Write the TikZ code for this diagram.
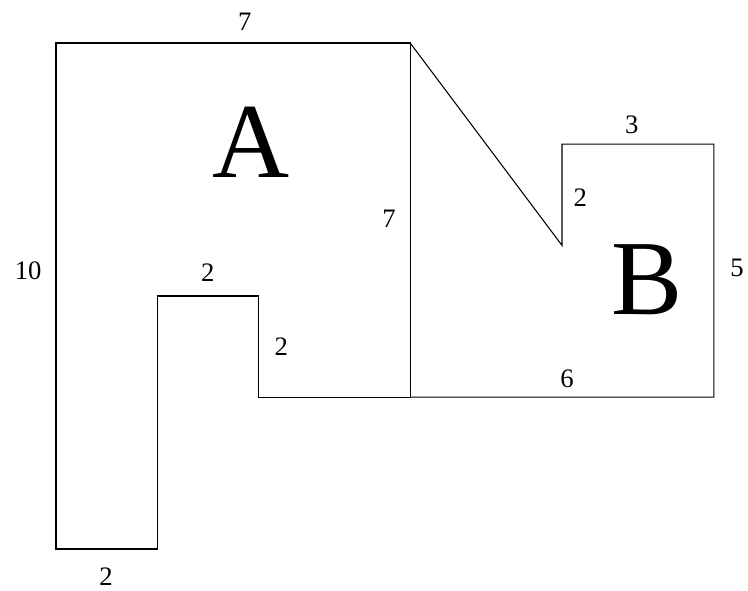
\documentclass[tikz,border=0pt]{standalone}
\usepackage{fontspec}
\setmainfont{Liberation Serif}

\begin{document}
\begin{tikzpicture}[line width=0.6pt, font=\fontsize{15}{17}\selectfont]
\useasboundingbox (-1.107,-0.830) rectangle (13.676,10.850);
\draw (0,0) -- ++(2,0) -- ++(0,5) -- ++(2,0) -- ++(0,-2) -- ++(3,0) -- ++(0,7) -- ++(-7,0) -- cycle;
\draw (7,3) -- ++(6,0) -- ++(0,5) -- ++(-3,0) -- ++(0,-2) -- (7,10);
\node (topA) at (3.73,10.42) {7};
\node (leftA) at (-0.55,5.49) {10};
\node (stepA) at (3.00,5.47) {2};
\node (riseA) at (4.45,3.99) {2};
\node (midA) at (6.58,6.52) {7};
\node (footA) at (0.99,-0.55) {2};
\node (nameA) at (3.85,8.03) {\fontsize{60}{66}\selectfont A};
\node (topB) at (11.38,8.38) {3};
\node (stepB) at (10.36,6.94) {2};
\node (rightB) at (13.46,5.55) {5};
\node (nameB) at (11.68,5.32) {\fontsize{60}{66}\selectfont B};
\node (baseB) at (10.10,3.36) {6};
\end{tikzpicture}
\end{document}
